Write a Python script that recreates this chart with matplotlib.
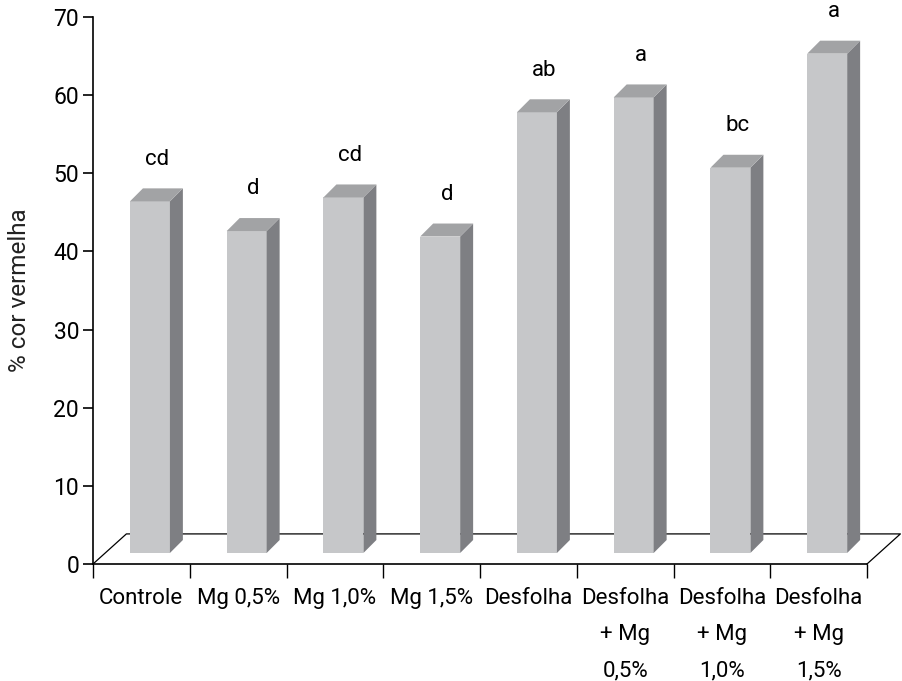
import matplotlib
matplotlib.use("Agg")
import matplotlib.pyplot as plt
from matplotlib.patches import Polygon

plt.rcParams["font.family"] = ["Roboto", "DejaVu Sans"]
plt.rcParams["font.size"] = 16

# tratamentos e % de cor vermelha
categorias = [
    "Controle", "Mg 0,5%", "Mg 1,0%", "Mg 1,5%", "Desfolha",
    "Desfolha\n+ Mg\n0,5%", "Desfolha\n+ Mg\n1,0%", "Desfolha\n+ Mg\n1,5%",
]
valores = [45.0, 41.2, 45.5, 40.5, 56.4, 58.3, 49.3, 63.9]
letras = ["cd", "d", "cd", "d", "ab", "a", "bc", "a"]

FRENTE = "#c6c7c9"
TOPO = "#a2a3a5"
LADO = "#7e7f83"

# geometria do "3D" (unidades dos eixos)
PISO_DX, PISO_DY = 0.345, 3.85
BARRA_X0, BARRA_W = 0.382, 0.413
BARRA_BASE = 1.41
PROF_DX, PROF_DY = 0.134, 1.66

fig = plt.figure(figsize=(9.02, 6.81), dpi=100)
ax = fig.add_axes([93 / 902, 117 / 681, 774 / 902, 547 / 681])
ax.set_xlim(0, len(categorias))
ax.set_ylim(0, 70)

# piso
n = len(categorias)
ax.plot([0, PISO_DX, n + PISO_DX, n], [0, PISO_DY, PISO_DY, 0],
        color="black", lw=0.9, clip_on=False, zorder=1)

for i, (v, let) in enumerate(zip(valores, letras)):
    x0 = i + BARRA_X0
    x1 = x0 + BARRA_W
    y0 = BARRA_BASE
    y1 = BARRA_BASE + v
    frente = Polygon([(x0, y0), (x1, y0), (x1, y1), (x0, y1)],
                     closed=True, fc=FRENTE, ec="none", zorder=3)
    lado = Polygon([(x1, y0), (x1 + PROF_DX, y0 + PROF_DY),
                    (x1 + PROF_DX, y1 + PROF_DY), (x1, y1)],
                   closed=True, fc=LADO, ec="none", zorder=3)
    topo = Polygon([(x0, y1), (x1, y1), (x1 + PROF_DX, y1 + PROF_DY),
                    (x0 + PROF_DX, y1 + PROF_DY)],
                   closed=True, fc=TOPO, ec="none", zorder=3)
    for p in (frente, lado, topo):
        p.set_clip_on(False)
        ax.add_patch(p)
    ax.text(x0 + BARRA_W / 2 + 0.07, y1 + 5.4, let, ha="center", va="center",
            fontsize=16, clip_on=False)

ax.spines[["top", "right"]].set_visible(False)
ax.spines["left"].set_linewidth(1.2)
ax.spines["bottom"].set_linewidth(1.2)

ax.set_yticks(range(0, 71, 10))
ax.tick_params(axis="y", direction="out", length=7, width=1.2, pad=3, labelsize=16.5)

ax.set_xticks([i + 0.5 for i in range(n)])
ax.set_xticklabels(categorias, linespacing=1.95, va="top")
ax.set_xticks(range(n + 1), minor=True)
ax.tick_params(axis="x", which="major", length=0, pad=17, labelsize=16)
ax.tick_params(axis="x", which="minor", direction="out", length=10, width=1.0)

ax.set_ylabel("% cor vermelha", fontsize=17.5, labelpad=16, color="#222222")

fig.savefig("out.png", dpi=100, facecolor="white")
